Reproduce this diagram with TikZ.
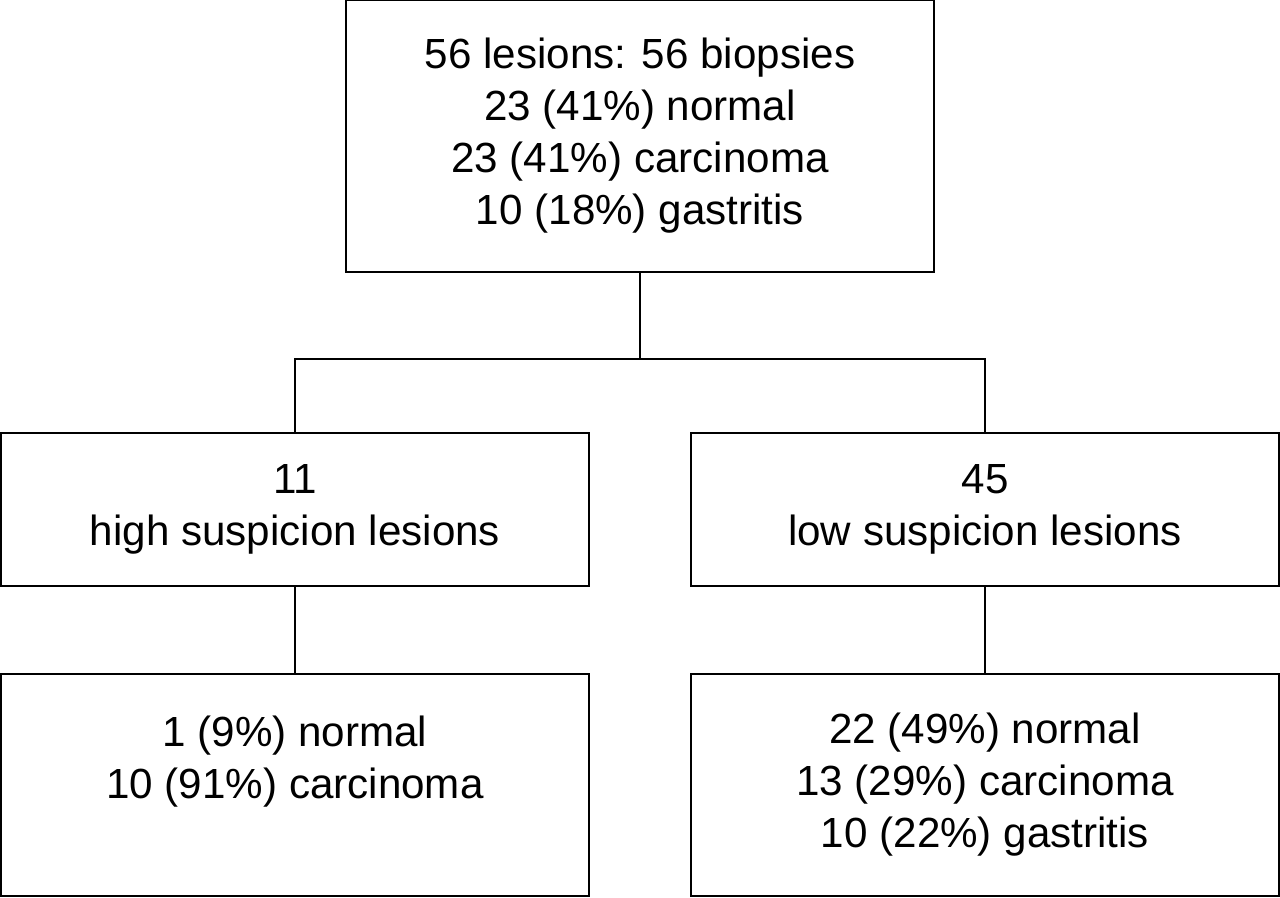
\documentclass[tikz,border=0pt]{standalone}
\usepackage{fontspec}
\setmainfont{Liberation Sans}
\begin{document}
\begin{tikzpicture}
  [x=0.02cm,y=-0.02cm,line width=1.4pt,
   every node/.style={draw, rectangle, align=center, inner sep=0pt,
     minimum width=11.76cm, font=\fontsize{24}{29.6}\selectfont}]
  \useasboundingbox (0,0) rectangle (1280,897);

  \node[minimum height=5.44cm] (top) at (640,136) {56 lesions: 56 biopsies\\23 (41\%) normal\\23 (41\%) carcinoma\\10 (18\%) gastritis};
  \node[minimum height=3.06cm] (high) at (295,509.5) {11\\high suspicion lesions};
  \node[minimum height=3.06cm] (low) at (985,509.5) {45\\low suspicion lesions};
  \node[minimum height=4.44cm,
        label={[draw=none,yshift=0.46cm,align=center]center:1 (9\%) normal\\10 (91\%) carcinoma}]
        (highres) at (295,785) {};
  \node[minimum height=4.44cm] (lowres) at (985,785) {22 (49\%) normal\\13 (29\%) carcinoma\\10 (22\%) gastritis};

  \coordinate (split) at (640,359);
  \draw (top.south) -- (split);
  \draw (high.north) |- (split) -| (low.north);

  \foreach \from/\to in {high/highres,low/lowres}
    \draw (\from.south) -- (\to.north);

\end{tikzpicture}
\end{document}
